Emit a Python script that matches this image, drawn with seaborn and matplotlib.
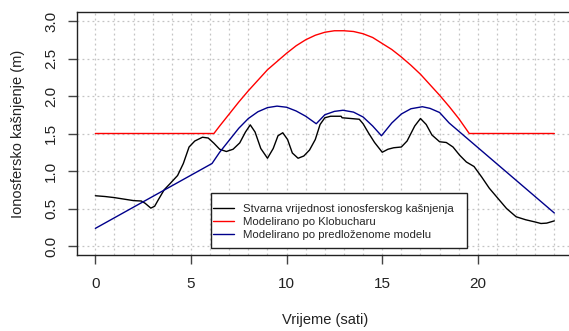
import numpy as np
import pandas as pd
import matplotlib
matplotlib.use("Agg")
import matplotlib.pyplot as plt
import seaborn as sns
from matplotlib.lines import Line2D
from matplotlib.patches import Rectangle

# Measured ionospheric delay (m) over the day
t_actual = [0.0, 0.5, 1.0, 1.5, 2.0, 2.4, 2.6, 2.9, 3.1, 3.3, 3.6, 3.9, 4.3, 4.6,
            4.9, 5.2, 5.6, 5.9, 6.2, 6.5, 6.85, 7.2, 7.55, 7.85, 8.1, 8.35, 8.65,
            9.0, 9.3, 9.55, 9.8, 10.05, 10.3, 10.6, 10.9, 11.2, 11.5, 11.75, 12.0,
            12.3, 12.85, 12.9, 13.8, 14.0, 14.3, 14.6, 15.0, 15.3, 15.6, 16.0,
            16.3, 16.7, 17.0, 17.3, 17.6, 18.0, 18.35, 18.7, 19.05, 19.4, 19.8,
            20.2, 20.6, 21.1, 21.5, 22.0, 22.5, 23.0, 23.3, 23.6, 24.0]
v_actual = [0.67, 0.66, 0.645, 0.625, 0.605, 0.60, 0.57, 0.505, 0.53, 0.62, 0.75,
            0.83, 0.94, 1.10, 1.32, 1.40, 1.45, 1.44, 1.37, 1.29, 1.26, 1.29,
            1.375, 1.52, 1.615, 1.52, 1.30, 1.17, 1.30, 1.47, 1.51, 1.42, 1.24,
            1.17, 1.20, 1.28, 1.42, 1.62, 1.71, 1.73, 1.73, 1.71, 1.69, 1.63,
            1.50, 1.38, 1.25, 1.29, 1.31, 1.32, 1.40, 1.60, 1.70, 1.62, 1.48,
            1.39, 1.38, 1.32, 1.21, 1.12, 1.06, 0.92, 0.77, 0.62, 0.50, 0.39,
            0.35, 0.32, 0.30, 0.305, 0.335]

# Klobuchar model
t_klob = [0.0, 6.2, 6.5, 7.0, 7.5, 8.0, 8.5, 9.0, 9.5, 10.0, 10.5, 11.0, 11.5,
          12.0, 12.5, 13.0, 13.5, 14.0, 14.5, 15.0, 15.5, 16.0, 16.5, 17.0,
          17.5, 18.0, 18.5, 19.0, 19.55, 24.0]
v_klob = [1.50, 1.50, 1.60, 1.76, 1.92, 2.07, 2.21, 2.35, 2.46, 2.57, 2.67, 2.75,
          2.81, 2.85, 2.87, 2.87, 2.86, 2.83, 2.78, 2.70, 2.62, 2.52, 2.41, 2.29,
          2.15, 2.01, 1.86, 1.70, 1.50, 1.50]

# Proposed model
t_prop = [0.0, 6.1, 6.5, 7.0, 7.5, 8.0, 8.5, 9.0, 9.5, 10.0, 10.5, 11.0, 11.55,
          12.0, 12.5, 12.95, 13.5, 14.0, 14.5, 14.96, 15.5, 16.0, 16.5, 17.1,
          17.5, 18.0, 18.5, 24.0]
v_prop = [0.235, 1.10, 1.25, 1.41, 1.57, 1.70, 1.79, 1.845, 1.865, 1.85, 1.80,
          1.73, 1.63, 1.75, 1.795, 1.81, 1.785, 1.72, 1.60, 1.47, 1.64, 1.76,
          1.83, 1.857, 1.835, 1.78, 1.64, 0.44]

x_ticks = [0, 5, 10, 15, 20]
y_ticks = [0.0, 0.5, 1.0, 1.5, 2.0, 2.5, 3.0]

labels = ["Stvarna vrijednost ionosferskog kašnjenja",
          "Modelirano po Klobucharu",
          "Modelirano po predloženome modelu"]
colors = ["black", "#FF0000", "#00008B"]

sns.set_style("white")
plt.rcParams["font.family"] = ["Liberation Sans", "DejaVu Sans"]

fig = plt.figure(figsize=(5.69, 3.31), dpi=100)
ax = fig.add_axes([77 / 569, 76 / 331, (572.7 - 77) / 569, 243 / 331])

# dotted reference grid
for x in range(0, 25):
    ax.axvline(x, color="#C4C4C4", lw=0.9, ls=(0, (1.5, 2.5)), zorder=0)
for y in y_ticks:
    ax.axhline(y, color="#C4C4C4", lw=0.9, ls=(0, (1.5, 2.5)), zorder=0)

frames = [pd.DataFrame({"t": t_actual, "v": v_actual}),
          pd.DataFrame({"t": t_klob, "v": v_klob}),
          pd.DataFrame({"t": t_prop, "v": v_prop})]
for df, c in zip(frames, colors):
    sns.lineplot(data=df, x="t", y="v", color=c, lw=1.0, ax=ax,
                 estimator=None, sort=False, zorder=3)

ax.set_xlim(-0.96, 24.96)
ax.set_ylim(-0.12, 3.12)
ax.set_xticks(x_ticks)
ax.set_xticklabels([str(v) for v in x_ticks])
ax.set_yticks(y_ticks)
ax.set_yticklabels([f"{v:.1f}" for v in y_ticks], rotation=90, va="center")
ax.tick_params(axis="both", direction="out", length=6.5, width=1.0,
               color="#444444", labelsize=11, labelcolor="#222222",
               left=True, bottom=True)
ax.tick_params(axis="x", pad=9)
ax.tick_params(axis="y", pad=7)
for s in ["left", "top", "bottom", "right"]:
    ax.spines[s].set_color("#222222")
    ax.spines[s].set_linewidth(1.0)

ax.set_xlabel("Vrijeme (sati)", fontsize=10.5, color="#222222", labelpad=16)
ax.set_ylabel("Ionosfersko kašnjenje (m)", fontsize=10.5, color="#222222",
              labelpad=14)

# legend box and entries
ax.add_patch(Rectangle((0.2697, 0.030), 0.7874 - 0.2697, 0.254 - 0.030,
                       transform=ax.transAxes, facecolor="white",
                       edgecolor="#222222", lw=1.0, zorder=5))
handles = [Line2D([0], [0], color=c, lw=1.0) for c in colors]
leg = ax.legend(handles, labels, loc="upper left",
                bbox_to_anchor=(0.2744, 0.208), fontsize=8.2,
                frameon=False, borderaxespad=0, borderpad=0,
                handlelength=1.85, handletextpad=0.75, labelspacing=0.24)
leg.set_zorder(6)

fig.savefig("out.png", dpi=100)
